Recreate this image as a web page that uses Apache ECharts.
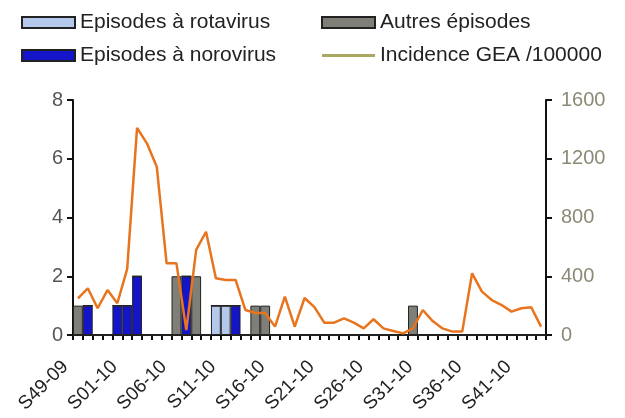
<!DOCTYPE html>
<html>
<head>
<meta charset="utf-8">
<script src="https://cdn.jsdelivr.net/npm/echarts@6/dist/echarts.min.js"></script>
<style>
  html, body { margin: 0; padding: 0; background: #fff; }
  #chart { width: 625px; height: 418px; }
</style>
</head>
<body>
<div id="chart"></div>
<script>
// semaines
var weeks = ['S49-09', 'S50-09', 'S51-09', 'S52-09', 'S53-09',
  'S01-10', 'S02-10', 'S03-10', 'S04-10', 'S05-10', 'S06-10', 'S07-10', 'S08-10', 'S09-10', 'S10-10',
  'S11-10', 'S12-10', 'S13-10', 'S14-10', 'S15-10', 'S16-10', 'S17-10', 'S18-10', 'S19-10', 'S20-10',
  'S21-10', 'S22-10', 'S23-10', 'S24-10', 'S25-10', 'S26-10', 'S27-10', 'S28-10', 'S29-10', 'S30-10',
  'S31-10', 'S32-10', 'S33-10', 'S34-10', 'S35-10', 'S36-10', 'S37-10', 'S38-10', 'S39-10', 'S40-10',
  'S41-10', 'S42-10', 'S43-10']

// nombre d'episodes par semaine
var rotavirus = [0, 0, 0, 0, 0, 0, 0, 0, 0, 0, 0, 0, 0, 0, 1, 1, 0, 0, 0, 0, 0, 0, 0, 0,
  0, 0, 0, 0, 0, 0, 0, 0, 0, 0, 0, 0, 0, 0, 0, 0, 0, 0, 0, 0, 0, 0, 0, 0]
var norovirus = [0, 1, 0, 0, 1, 1, 2, 0, 0, 0, 0, 2, 0, 0, 0, 0, 1, 0, 0, 0, 0, 0, 0, 0,
  0, 0, 0, 0, 0, 0, 0, 0, 0, 0, 0, 0, 0, 0, 0, 0, 0, 0, 0, 0, 0, 0, 0, 0]
var autres = [1, 0, 0, 0, 0, 0, 0, 0, 0, 0, 2, 0, 2, 0, 0, 0, 0, 0, 1, 1, 0, 0, 0, 0,
  0, 0, 0, 0, 0, 0, 0, 0, 0, 0, 1, 0, 0, 0, 0, 0, 0, 0, 0, 0, 0, 0, 0, 0]

// incidence GEA pour 100000
var incidence = [250, 318, 182, 306, 216, 450, 1410, 1305, 1146, 488, 488, 34, 579, 703, 386, 375,
  375, 170, 150, 150, 57, 261, 57, 252, 190, 84, 84, 113, 84, 45, 107, 45,
  27, 11, 45, 170, 95, 45, 23, 23, 420, 295, 238, 204, 159, 182, 189, 57]

var leftTicks = [0, 2, 4, 6, 8]
var rightTicks = [0, 400, 800, 1200, 1600]

var font = 'Liberation Sans, Arial, sans-serif'
var chart = echarts.init(document.getElementById('chart'))

function barSeries (name, data, color) {
  return {
    name: name,
    type: 'bar',
    stack: 'ep',
    data: data,
    barWidth: '100%',
    itemStyle: { color: color, borderColor: '#222', borderWidth: 1 },
    emphasis: { disabled: true }
  }
}

var legendText = { fontSize: 21, color: '#222', fontFamily: font }

chart.setOption({
  animation: false,
  backgroundColor: '#fff',
  textStyle: { fontFamily: font },
  legend: [
    {
      left: 16, top: 7, orient: 'vertical', itemGap: 12,
      itemWidth: 53, itemHeight: 11, icon: 'rect',
      textStyle: legendText,
      data: ['Episodes à rotavirus', 'Episodes à norovirus']
    },
    {
      left: 316, top: 7, orient: 'vertical', itemGap: 12,
      itemWidth: 53, itemHeight: 11, icon: 'rect',
      textStyle: legendText,
      data: ['Autres épisodes', {
        name: 'Incidence GEA /100000',
        icon: 'path://M0,0H53V3H0Z',
        itemStyle: { color: '#a8a860' }
      }]
    }
  ],
  grid: { left: 73, right: 79, top: 100, bottom: 83 },
  xAxis: {
    type: 'category',
    data: weeks,
    boundaryGap: true,
    axisLine: { lineStyle: { color: '#111', width: 2 } },
    axisTick: { show: true, length: 5, interval: 0, lineStyle: { color: '#111', width: 2 } },
    axisLabel: {
      interval: 4, rotate: 45, margin: 16, padding: [0, 18, 0, 0],
      fontSize: 19, color: '#222', fontFamily: font
    }
  },
  yAxis: [
    {
      type: 'value',
      min: leftTicks[0], max: leftTicks[leftTicks.length - 1], interval: 2,
      splitLine: { show: false },
      axisLine: { show: true, lineStyle: { color: '#111', width: 2 } },
      axisTick: { show: true, length: 6, lineStyle: { color: '#111', width: 2 } },
      axisLabel: { fontSize: 20, color: '#555', margin: 10, fontFamily: font }
    },
    {
      type: 'value',
      min: rightTicks[0], max: rightTicks[rightTicks.length - 1], interval: 400,
      position: 'right',
      splitLine: { show: false },
      axisLine: { show: true, lineStyle: { color: '#111', width: 2 } },
      axisTick: { show: true, length: 6, lineStyle: { color: '#111', width: 2 } },
      axisLabel: {
        fontSize: 20, color: '#8c8a74', margin: 15, fontFamily: font,
        formatter: function (v) { return String(v) }
      }
    }
  ],
  series: [
    barSeries('Episodes à rotavirus', rotavirus, '#b4c8ec'),
    barSeries('Episodes à norovirus', norovirus, '#1414c8'),
    barSeries('Autres épisodes', autres, '#7f7f78'),
    {
      name: 'Incidence GEA /100000',
      type: 'line',
      yAxisIndex: 1,
      data: incidence,
      showSymbol: false,
      symbol: 'none',
      lineStyle: { color: '#e8741e', width: 2.5 },
      itemStyle: { color: '#a8a860' },
      emphasis: { disabled: true }
    }
  ]
})
</script>
</body>
</html>
